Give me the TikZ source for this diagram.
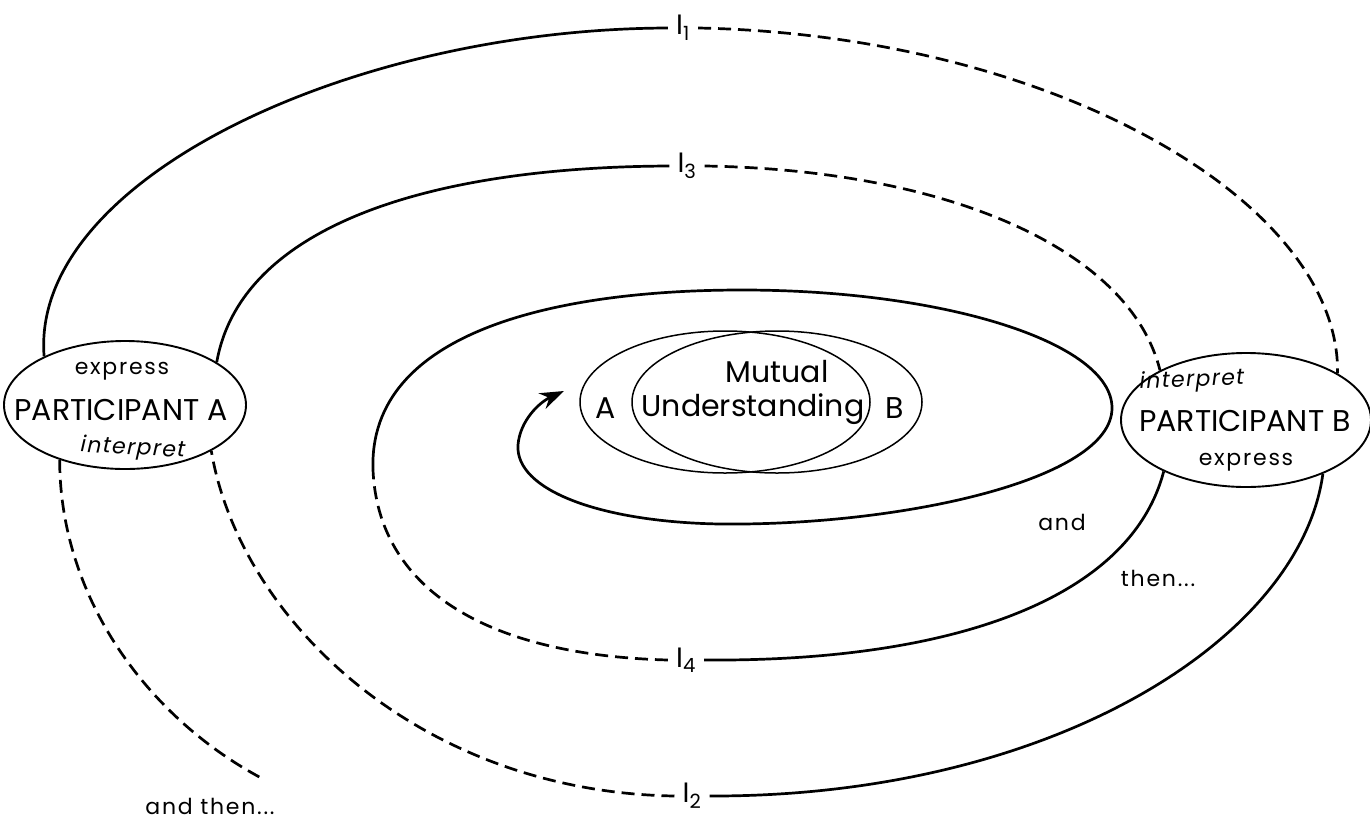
\documentclass[tikz,border=0pt]{standalone}
\usepackage{fontspec}
\setmainfont{Poppins}
\usetikzlibrary{shapes.geometric,arrows.meta}
\begin{document}
\begin{tikzpicture}[x=1pt,y=-1pt,
  part/.style={ellipse, draw, line width=1.9pt, inner sep=0pt},
  mut/.style={ellipse, draw, line width=1.5pt, inner sep=0pt, minimum width=290pt, minimum height=142pt},
  curve/.style={line width=2.7pt},
  dsh/.style={curve, dash pattern=on 13pt off 7pt},
  lab/.style={font=\fontsize{30}{34}\selectfont, inner sep=1pt},
  sm/.style={font=\fontsize{22}{26}\selectfont\addfontfeature{LetterSpace=8}, inner sep=1pt},
  smi/.style={font=\fontsize{22}{26}\selectfont\itshape\addfontfeature{LetterSpace=6}, inner sep=1pt},
  ilab/.style={font=\fontsize{28}{32}\selectfont, inner xsep=8pt, inner ysep=2pt}]
\useasboundingbox (0,0) rectangle (1370,825);

% participants
\node[part, minimum width=242pt, minimum height=128pt] (pa) at (125,405) {};
\node[part, minimum width=250pt, minimum height=134pt] (pb) at (1246,420) {};
\node[lab] (pat) at (121,410) {PARTICIPANT A};
\node[lab] (pbt) at (1245,421) {PARTICIPANT B};
\node[sm] (paexp) at (122,371) {express};
\node[sm] (pbexp) at (1246,462) {express};
\node[smi, rotate=-3] (paint) at (133,449) {interpret};
\node[smi, rotate=2] (pbint) at (1192,381) {interpret};

% mutual understanding
\node[mut] (ma) at (725,402) {};
\node[mut] (mb) at (777,402) {};
\node[lab] (mt1) at (777,372) {Mutual};
\node[lab] (mt2) at (753,409) {Understanding};
\node[lab] (ta) at (606,408) {A};
\node[lab] (tb) at (895,408) {B};

% I labels
\node[ilab] (i1) at (683,28) {I\textsubscript{1}};
\node[ilab] (i3) at (687,166) {I\textsubscript{3}};
\node[ilab] (i4) at (686,660) {I\textsubscript{4}};
\node[ilab] (i2) at (692,796) {I\textsubscript{2}};

% and then
\node[sm] (at1) at (210,806) {and then...};
\node[sm] (at2a) at (1062,522) {and};
\node[sm] (at2b) at (1158,578) {then...};

\coordinate (s4) at (373,470);
\coordinate (tip) at (564,391);
\coordinate (aend) at (265,780);

% I1
\draw[curve] (pa.149) .. controls (30,180) and (350,29) .. (i1.west);
\draw[dsh] (i1.east) .. controls (1050,35) and (1340,200) .. (pb.27);
% I3
\draw[curve] (pa.25) .. controls (240,230) and (420,167) .. (i3.west);
\draw[dsh] (i3.east) .. controls (950,170) and (1130,250) .. (pb.150);
% I2
\draw[curve] (pb.-35) .. controls (1300,640) and (1050,797) .. (i2.east);
\draw[dsh] (i2.west) .. controls (420,792) and (240,620) .. (pa.-28);
% outer and then
\draw[dsh] (pa.-140) .. controls (60,600) and (150,720) .. (aend);
% I4 and inner spiral
\draw[curve] (pb.-148) .. controls (1130,600) and (950,662) .. (i4.east);
\draw[dsh] (i4.west) .. controls (480,655) and (378,585) .. (s4);
\draw[curve,-{Stealth[length=24pt,width=17pt]}] (s4) .. controls (368,330) and (560,290) .. (742,290)
  .. controls (946,290) and (1112,343) .. (1112,408)
  .. controls (1112,480) and (900,526) .. (720,524)
  .. controls (600,522) and (515,490) .. (518,445)
  .. controls (520,420) and (540,402) .. (tip);
\end{tikzpicture}
\end{document}
